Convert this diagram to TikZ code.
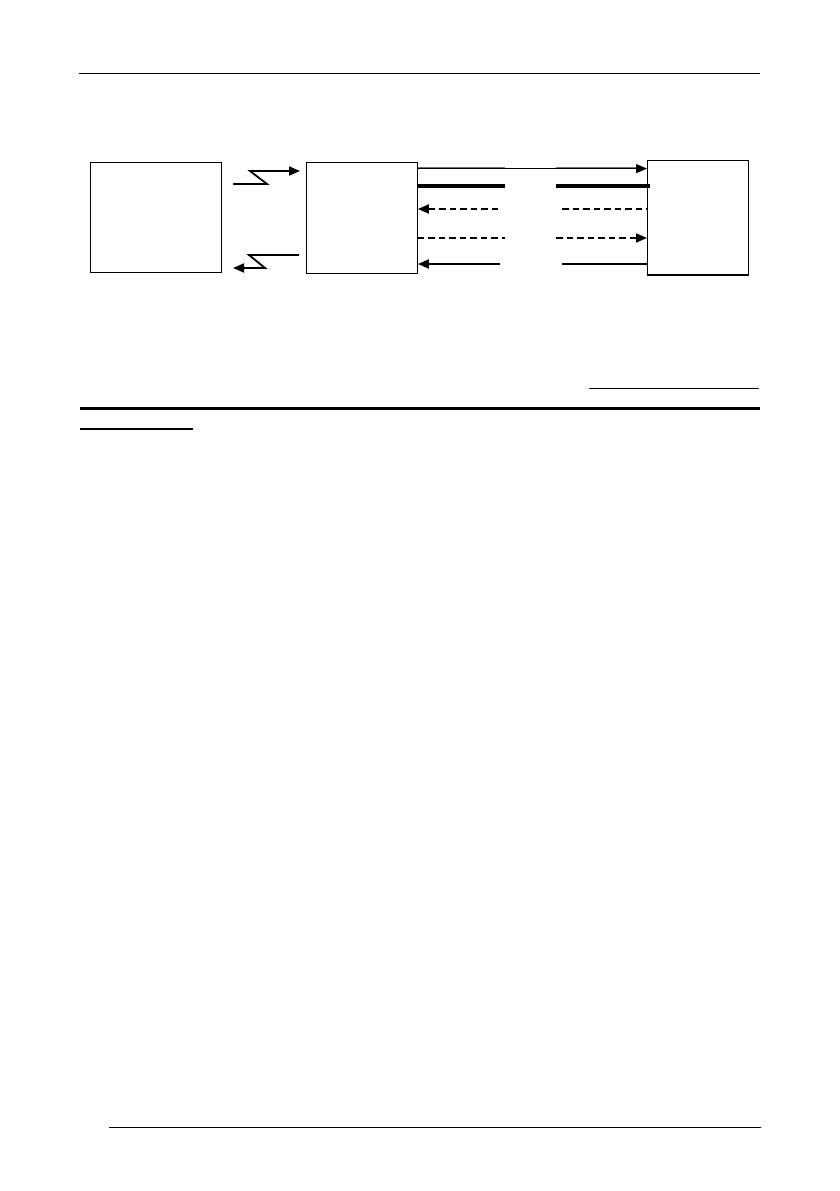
\documentclass[tikz,border=0pt]{standalone}
\usetikzlibrary{arrows.meta}
\begin{document}
\begin{tikzpicture}[x=1pt,y=-1pt,
  box/.style={draw,line width=1.2pt,inner sep=0pt,anchor=north west},
  rule/.style={line width=1.4pt},
  thickrule/.style={line width=2.6pt},
  tip/.style={-{Triangle[length=11pt,width=9pt]}},
  sig/.style={line width=1.8pt},
  dsig/.style={line width=1.8pt,dash pattern=on 6.5pt off 4pt},
  bus/.style={line width=3.6pt},
  greyline/.style={line width=1.6pt,draw=black!55}]
\useasboundingbox (0,0) rectangle (840,1191);
% page rules
\coordinate (h1) at (79,73.3); \coordinate (h2) at (760,73.3);
\draw[rule] (h1) -- (h2);
\coordinate (s1) at (589,388.3); \coordinate (s2) at (759,388.3);
\draw[rule] (s1) -- (s2);
\coordinate (t1) at (80,408.7); \coordinate (t2) at (760,408.7);
\draw[thickrule] (t1) -- (t2);
\coordinate (u1) at (80,429); \coordinate (u2) at (193,429);
\draw[rule] (u1) -- (u2);
\coordinate (f1) at (109,1127.3); \coordinate (f2) at (761,1127.3);
\draw[rule] (f1) -- (f2);
% boxes
\node[box,minimum width=131pt,minimum height=110pt] (A) at (90,162) {};
\node[box,minimum width=111pt,minimum height=111pt] (B) at (305.7,162) {};
\node[box,minimum width=101pt,minimum height=114pt] (C) at (647,160) {};
\draw[line width=2.4pt] (C.south west) -- (C.south east);
% zigzag links A <-> B
\coordinate (z1) at (233,184); \coordinate (z2) at (267,184); \coordinate (z3) at (250,171);
\coordinate (z4) at (300,171);
\draw[sig,tip] (z1) -- (z2) -- (z3) -- (z4);
\coordinate (y1) at (299,255); \coordinate (y2) at (249,255); \coordinate (y3) at (265,268);
\coordinate (y4) at (233,268);
\draw[sig,tip] (y1) -- (y2) -- (y3) -- (y4);
% B <-> C links (broken in the middle)
\coordinate (a1) at (B.east |- 0,167.3); \coordinate (a2) at (505,167.3);
\coordinate (a3) at (556,167.3); \coordinate (a4) at (640,167.3);
\draw[greyline] (a1) -- (a2); \draw[greyline] (a3) -- (a4);
\coordinate (b1) at (B.east |- 0,168.6); \coordinate (b2) at (C.west |- 0,168.6);
\draw[line width=1.2pt,tip] (b1) -- (b2);
\coordinate (c1) at (B.east |- 0,186); \coordinate (c2) at (505,186);
\coordinate (c3) at (556,186); \coordinate (c4) at (650,186);
\draw[bus] (c1) -- (c2); \draw[bus] (c3) -- (c4);
\coordinate (d1) at (498,209); \coordinate (d2) at (B.east |- 0,209);
\coordinate (d3) at (562,209); \coordinate (d4) at (C.west |- 0,209);
\draw[dsig,tip] (d1) -- (d2); \draw[dsig] (d3) -- (d4);
\coordinate (e1) at (B.east |- 0,238); \coordinate (e2) at (505,238);
\coordinate (e3) at (556,238); \coordinate (e4) at (C.west |- 0,238);
\draw[dsig] (e1) -- (e2); \draw[dsig,tip] (e3) -- (e4);
\coordinate (g1) at (500,264); \coordinate (g2) at (B.east |- 0,264);
\coordinate (g3) at (562,264); \coordinate (g4) at (C.west |- 0,264);
\draw[sig,tip] (g1) -- (g2); \draw[sig] (g3) -- (g4);
\end{tikzpicture}
\end{document}
